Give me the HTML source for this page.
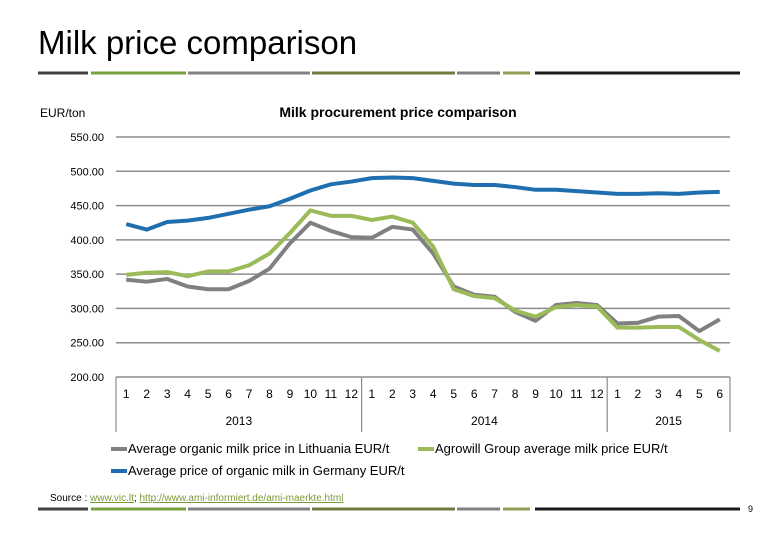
<!DOCTYPE html>
<html><head><meta charset="utf-8"><style>
body{margin:0;background:#fff;width:780px;height:540px;overflow:hidden;font-family:"Liberation Sans",sans-serif;}
svg text{font-family:"Liberation Sans",sans-serif;}
</style></head><body>
<svg id="c" width="780" height="540" xmlns="http://www.w3.org/2000/svg">
<text x="38" y="54" font-size="33" fill="#000">Milk price comparison</text>
<g id="topbar"></g>
<g id="botbar"></g>
<text x="40" y="117" font-size="12" fill="#000">EUR/ton</text>
<text x="398" y="117" font-size="14" font-weight="bold" text-anchor="middle" fill="#000">Milk procurement price comparison</text>
<g id="grid"></g><g id="yt"></g><g id="xt"></g><g id="series"></g>
<g font-size="13" fill="#000">
<rect x="111" y="447" width="16" height="4" fill="#808080"/>
<text x="128" y="453">Average organic milk price in Lithuania EUR/t</text>
<rect x="418" y="447" width="16" height="4" fill="#9BBB59"/>
<text x="435" y="453">Agrowill Group average milk price EUR/t</text>
<rect x="111" y="469" width="16" height="4" fill="#1F6FB0"/>
<text x="128" y="475">Average price of organic milk in Germany EUR/t</text>
</g>
<text x="50" y="501" font-size="10" fill="#000">Source : <tspan fill="#7a9a3a" text-decoration="underline">www.vic.lt</tspan>; <tspan fill="#7a9a3a" text-decoration="underline">http://www.ami-informiert.de/ami-maerkte.html</tspan></text>
<text x="748" y="512" font-size="9" fill="#000">9</text>
</svg>
<script>
const months=["1","2","3","4","5","6","7","8","9","10","11","12","1","2","3","4","5","6","7","8","9","10","11","12","1","2","3","4","5","6"];
const years=["2013","2014","2015"];
const yearCounts=[12,12,6];
const yTicks=[200,250,300,350,400,450,500,550];
const lithuania=[342,339,343,332,328,328,340,358,395,425,413,404,403,419,415,380,332,320,317,295,282,305,308,305,278,279,288,289,267,284];
const agrowill=[349,352,353,347,354,354,363,380,410,443,435,435,429,434,425,390,328,318,315,297,288,302,305,303,272,272,273,273,254,238];
const germany=[423,415,426,428,432,438,444,449,460,472,481,485,490,491,490,486,482,480,480,477,473,473,471,469,467,467,468,467,469,470];
const NS="http://www.w3.org/2000/svg";
const x0=116,x1=730,yb=377,yMin=200,yMax=550,yTop=137;
const cw=(x1-x0)/months.length;
const X=i=>x0+cw*(i+0.5);
const Y=v=>yb-(v-yMin)/(yMax-yMin)*(yb-yTop);
function mk(t,a,p){const e=document.createElementNS(NS,t);for(const k in a)e.setAttribute(k,a[k]);p.appendChild(e);return e;}
const grid=document.getElementById('grid'),yt=document.getElementById('yt'),xt=document.getElementById('xt'),sr=document.getElementById('series');
yTicks.forEach(v=>{
  if(v>yMin){const l=mk('line',{x1:x0,x2:x1,y1:Y(v),y2:Y(v),stroke:'#8c8c8c','stroke-width':1.5},grid);
  
  }
  const t=mk('text',{x:104,y:Y(v)+4,'font-size':11,'text-anchor':'end',fill:'#000'},yt);t.textContent=v.toFixed(2);
  
  
});
const ax=mk('line',{x1:x0,x2:x1,y1:yb,y2:yb,stroke:'#8c8c8c','stroke-width':1.5},xt);


months.forEach((m,i)=>{const t=mk('text',{x:X(i),y:398,'font-size':12,'text-anchor':'middle',fill:'#000'},xt);t.textContent=m;
  
  });
let start=0;
const sep=xx=>{const s=mk('line',{x1:xx,x2:xx,y1:yb,y2:432,stroke:'#8c8c8c','stroke-width':1.2},xt);
  
  };
sep(x0);
years.forEach((y,k)=>{const n=yearCounts[k];const cx=x0+cw*(start+n/2);
  const t=mk('text',{x:cx,y:425,'font-size':12,'text-anchor':'middle',fill:'#000'},xt);t.textContent=y;
  
  
  start+=n;sep(x0+cw*start);});
function line(d,c,name){const p=mk('polyline',{points:d.map((v,i)=>X(i)+','+Y(v)).join(' '),fill:'none',stroke:c,'stroke-width':4,'stroke-linejoin':'round'},sr);
  
  }
line(germany,'#1F6FB0','series-germany');
line(lithuania,'#808080','series-lithuania');
line(agrowill,'#9BBB59','series-agrowill');
const segs=[[38,88,'#404040'],[91,186,'#77A03F'],[188,310,'#808080'],[312,455,'#6E7A3E'],[457,500,'#808080'],[503,530,'#8FA055'],[535,740,'#1a1a1a']];
[['topbar',73],['botbar',509]].forEach(([id,y])=>{const g=document.getElementById(id);
  segs.forEach(s=>{const r=mk('rect',{x:s[0],y:y-1.5,width:s[1]-s[0],height:3,fill:s[2]},g);
  
  });});
</script>
</body></html>
